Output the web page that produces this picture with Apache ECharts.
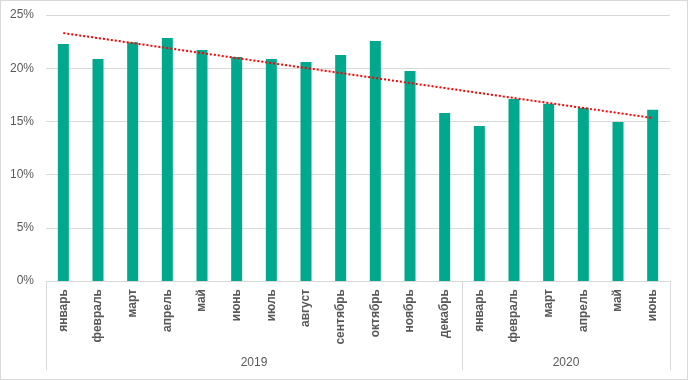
<!DOCTYPE html>
<html>
<head>
<meta charset="utf-8">
<script src="https://cdn.jsdelivr.net/npm/echarts@6/dist/echarts.min.js"></script>
<style>
html,body{margin:0;padding:0;background:#fff;}
#wrap{position:relative;width:688px;height:380px;}
#chart{position:absolute;left:0;top:0;width:688px;height:380px;}
#frame{position:absolute;left:0;top:0;width:688px;height:380px;box-sizing:border-box;border:1px solid #d9d9d9;pointer-events:none;}
</style>
</head>
<body>
<div id="wrap"><div id="chart"></div><div id="frame"></div></div>
<script>
const months = ['январь','февраль','март','апрель','май','июнь','июль','август','сентябрь','октябрь','ноябрь','декабрь',
                'январь','февраль','март','апрель','май','июнь'];
const values = [22.27,20.86,22.43,22.84,21.71,21.05,20.86,20.58,21.24,22.56,19.74,15.79,
                14.57,17.11,16.67,16.29,14.94,16.10];
const yearLabels = ['2019','2020'];
const yearCounts = [12,6];
const yTicks = [0,5,10,15,20,25];

// linear trendline (least squares) from the data
const n = values.length;
const mx = (n-1)/2;
const my = values.reduce((a,b)=>a+b,0)/n;
let sxy=0,sxx=0;
values.forEach((v,i)=>{sxy+=(i-mx)*(v-my);sxx+=(i-mx)*(i-mx);});
const slope = sxy/sxx, icpt = my - slope*mx;
const trend = values.map((v,i)=>+(icpt+slope*i).toFixed(3));

// year per category, group starts and middle indices
const yearOfCat = [];
const groupStarts = [];
const groupMid = {};
yearLabels.forEach((y,g)=>{
  groupStarts.push(yearOfCat.length);
  groupMid[yearOfCat.length + Math.floor(yearCounts[g]/2) - 1] = y;
  for(let k=0;k<yearCounts[g];k++) yearOfCat.push(y);
});

const chart = echarts.init(document.getElementById('chart'), null, {renderer:'canvas'});
const catW = (670-46)/n;
chart.setOption({
  animation:false,
  grid:{left:46,right:18,top:15,bottom:99,containLabel:false},
  xAxis:[{
    type:'category',data:months,position:'bottom',
    axisLine:{show:true,lineStyle:{color:'#d9d9d9',width:1}},
    axisTick:{show:false},
    axisLabel:{rotate:90,interval:0,margin:8,color:'#595959',fontSize:12,fontWeight:'bold',fontFamily:'Liberation Sans'}
  },{
    type:'category',data:yearOfCat,position:'bottom',
    axisLine:{show:false},
    axisTick:{show:true,length:89,lineStyle:{color:'#d9d9d9',width:1},
      interval:function(i){return groupStarts.indexOf(i)>=0;}},
    axisLabel:{interval:function(i){return groupMid[i]!==undefined;},margin:76,color:'#595959',fontSize:12,
      fontFamily:'Liberation Sans',padding:[0,0,0,catW]}
  }],
  yAxis:{
    type:'value',min:yTicks[0],max:yTicks[yTicks.length-1],interval:5,
    axisLine:{show:false},axisTick:{show:false},
    splitLine:{lineStyle:{color:'#d9d9d9',width:1}},
    axisLabel:{formatter:'{value}%',color:'#595959',fontSize:12,margin:12,fontFamily:'Liberation Sans'}
  },
  series:[{
    type:'bar',data:values,barWidth:11,itemStyle:{color:'#00a88e'}
  },{
    type:'line',data:trend,symbol:'none',
    lineStyle:{color:'#ff0000',width:2,type:[2,2]},z:5
  }]
});
</script>
</body>
</html>
